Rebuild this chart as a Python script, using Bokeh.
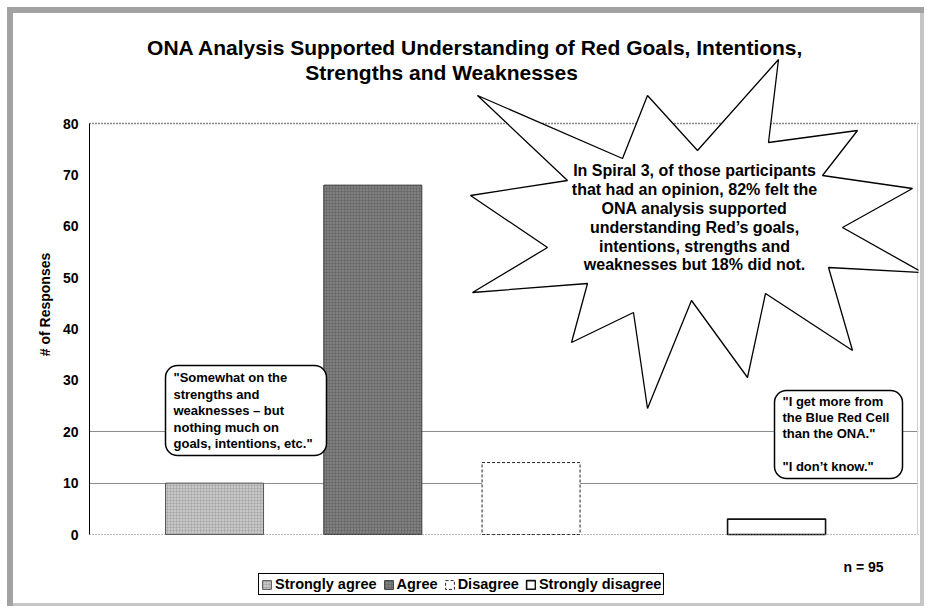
from bokeh.plotting import figure
from bokeh.models import (ColumnDataSource, FactorRange, Range1d, FixedTicker, Span,
                          Label, BoxAnnotation, PolyAnnotation, Legend, LegendItem)
from bokeh.transform import dodge
from bokeh.embed import file_html
from bokeh.resources import INLINE

# ---------------- data ----------------
categories = ["Strongly agree", "Agree", "Disagree", "Strongly disagree"]
responses = [10, 68, 14, 3]
y_ticks = [0, 10, 20, 30, 40, 50, 60, 70, 80]
title_lines = ["ONA Analysis Supported Understanding of Red Goals, Intentions,",
               "Strengths and Weaknesses"]
y_title = "# of Responses"
quote_strongly_agree = ['"Somewhat on the', "strengths and", "weaknesses \u2013 but",
                        "nothing much on", 'goals, intentions, etc."']
quote_strongly_disagree = ['"I get more from', "the Blue Red Cell", 'than the ONA."',
                           "", '"I don\u2019t know."']
burst_lines = ["In Spiral 3, of those participants", "that had an opinion, 82% felt the",
               "ONA analysis supported", "understanding Red\u2019s goals,",
               "intentions, strengths and", "weaknesses but 18% did not."]

# ---------------- styles ----------------
FONT = "Liberation Sans"
fill_colors = ["#c8c8c8", "#808080", "#ffffff", "#ffffff"]
hatch_colors = ["#9a9a9a", "#5c5c5c", "#ffffff", "#ffffff"]
hatch_patterns = ["+", "+", " ", " "]
line_colors = ["#555555", "#3a3a3a", "#222222", "#111111"]
line_widths = [1, 1, 1, 1.6]
line_dashes = ["solid", "solid", "3 2", "solid"]
grid_levels = [10, 20]

# page geometry (figure sits at page 0,0)
W, H = 926, 608
FL, FR = 89, 918            # frame left / right on page
Y0_PX, Y80_PX = 534, 123    # page y of value-axis ends
ppu = (Y0_PX - Y80_PX) / (y_ticks[-1] - y_ticks[0])
y_lo = y_ticks[0] - (H - Y0_PX) / ppu
y_hi = y_ticks[-1] + Y80_PX / ppu

def sx(px):
    return px - FL
def sy(py):
    return H - py

factors = [("a", c) for c in categories[:3]] + [("b", categories[3])]
x_range = FactorRange(*factors, factor_padding=0.292, group_padding=1.004,
                      range_padding=0.5897, range_padding_units="absolute")

p = figure(width=W, height=H, frame_width=FR - FL, frame_height=H,
           x_range=x_range, y_range=Range1d(y_lo, y_hi),
           output_backend="svg", toolbar_location=None,
           min_border_left=FL, min_border_right=W - FR, min_border_top=0,
           min_border_bottom=0)
p.styles = {"background-color": "#ffffff",
            "box-shadow": "inset 7px 7px 0 0 #ffffff, inset -2px -2px 0 0 #ffffff, "
                          "inset 13px 13px 0 0 #a2a2a2, inset -6px -5px 0 0 #c6c6c6"}
p.outline_line_color = None
p.background_fill_alpha = 0
p.border_fill_alpha = 0

p.xaxis.visible = False
p.xgrid.visible = False
p.ygrid.ticker = FixedTicker(ticks=grid_levels)
p.ygrid.grid_line_color = "#8c8c8c"
p.ygrid.grid_line_width = 1

yax = p.yaxis[0]
yax.bounds = (y_ticks[0], y_ticks[-1])
yax.ticker = FixedTicker(ticks=y_ticks)
yax.axis_label = y_title
yax.axis_label_text_font = FONT
yax.axis_label_text_font_style = "bold"
yax.axis_label_text_font_size = "14px"
yax.axis_label_text_color = "black"
yax.axis_label_standoff = 7
yax.major_label_text_font = FONT
yax.major_label_text_font_style = "bold"
yax.major_label_text_font_size = "14px"
yax.major_label_text_color = "black"
yax.major_label_standoff = 11
yax.major_tick_out = 0
yax.major_tick_in = 0
yax.minor_tick_out = 0
yax.minor_tick_in = 0
yax.axis_line_color = "black"

# dotted lines at top and bottom of the value range, light right border
p.add_layout(Span(location=y_ticks[-1], dimension="width", line_color="#111111",
                  line_dash="1 2", line_width=1.3))
p.add_layout(Span(location=y_ticks[0], dimension="width", line_color="#777777",
                  line_dash="1 2", line_width=1.2))
p.add_layout(BoxAnnotation(left=sx(917), right=sx(917), top=sy(Y80_PX), bottom=sy(Y0_PX),
                           left_units="screen", right_units="screen",
                           top_units="screen", bottom_units="screen",
                           fill_alpha=0, line_color="#cfcfcf", line_alpha=1,
                           line_width=1))

# bars
items = []
for i, cat in enumerate(categories):
    src = ColumnDataSource(dict(x=[factors[i]], top=[responses[i]]))
    r = p.vbar(x=dodge("x", -0.069, range=p.x_range), top="top", bottom=0, width=0.8,
               source=src, fill_color=fill_colors[i], line_color=line_colors[i],
               line_width=line_widths[i], line_dash=line_dashes[i],
               hatch_pattern=hatch_patterns[i], hatch_color=hatch_colors[i],
               hatch_scale=3, hatch_weight=0.6, hatch_alpha=0.8)
    items.append(LegendItem(label=cat, renderers=[r]))

legend = Legend(items=items, orientation="horizontal", location=(sx(258), sy(595)),
                label_text_font=FONT, label_text_font_style="bold",
                label_text_font_size="14.5px", label_text_color="black",
                glyph_width=11, glyph_height=11,
                label_standoff=3, spacing=6, padding=2, margin=0,
                border_line_color="black", border_line_width=1, border_line_alpha=1,
                background_fill_color="white", background_fill_alpha=1)
p.add_layout(legend)

# title (two lines)
for text, cx, cy in zip(title_lines, [475, 441], [47, 72]):
    p.add_layout(Label(x=sx(cx), y=sy(cy), x_units="screen", y_units="screen",
                       text=text, text_font=FONT, text_font_style="bold",
                       text_font_size="21px", text_align="center",
                       text_baseline="middle", text_color="black"))

# callout boxes
for l, r_, t, b in [(165, 326, 365, 455), (774, 902, 390, 478)]:
    p.add_layout(BoxAnnotation(left=sx(l), right=sx(r_), top=sy(t), bottom=sy(b),
                               left_units="screen", right_units="screen",
                               top_units="screen", bottom_units="screen",
                               fill_color="white", fill_alpha=1, line_color="black",
                               line_alpha=1, line_width=1.5, border_radius=12))

# starburst
burst_px = [(477, 95), (622, 158), (647, 95), (697, 150), (778, 59), (768, 142),
            (857, 130), (822, 175), (912, 188), (842, 227), (922, 272), (828, 267),
            (852, 350), (765, 293), (747, 377), (691, 300), (647, 408), (633, 312),
            (571, 342), (587, 283), (472, 292), (547, 247), (470, 195), (567, 180)]
p.add_layout(PolyAnnotation(xs=[sx(a) for a, b in burst_px],
                            ys=[sy(b) for a, b in burst_px],
                            xs_units="screen", ys_units="screen",
                            fill_color="white", fill_alpha=1,
                            line_color="black", line_alpha=1, line_width=1.3))

def add_lines(lines, x, ys, size, align):
    for t, yy in zip(lines, ys):
        if not t:
            continue
        p.add_layout(Label(x=sx(x), y=sy(yy), x_units="screen", y_units="screen",
                           text=t, text_font=FONT, text_font_style="bold",
                           text_font_size=size, text_align=align,
                           text_baseline="middle", text_color="black"))

add_lines(burst_lines, 694, [170, 189, 208, 227, 246, 264], "16px", "center")
add_lines(quote_strongly_agree, 173, [377, 393.5, 410, 427, 443], "13px", "left")
add_lines(quote_strongly_disagree, 782, [401, 417, 433, 449, 466], "13px", "left")

# sample size note
p.add_layout(Label(x=sx(843), y=sy(566), x_units="screen", y_units="screen",
                   text=f"n = {sum(responses)}", text_font=FONT,
                   text_font_style="bold", text_font_size="14px",
                   text_align="left", text_baseline="middle", text_color="black"))

open("out.html", "w").write(file_html(p, INLINE))
